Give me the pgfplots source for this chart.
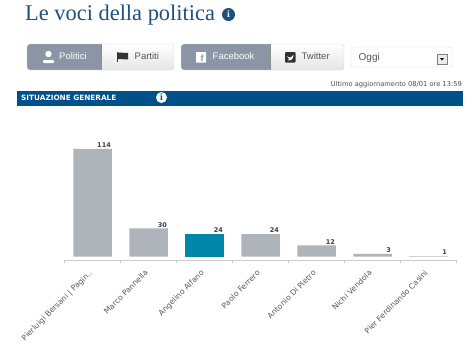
\documentclass[border=0pt]{standalone}
\usepackage{fontspec}
\setmainfont{Liberation Sans}
\newfontfamily\vfont{DejaVu Sans}
\newfontfamily\tfont{Liberation Serif}
\usepackage{pgfplots}
\pgfplotsset{compat=1.18}
\definecolor{navy}{HTML}{00508A}
\definecolor{titleblue}{HTML}{1F4F7F}
\definecolor{active}{HTML}{8A95A6}
\definecolor{barg}{HTML}{AEB4BA}
\definecolor{teal}{HTML}{0086A8}
\definecolor{btxt}{HTML}{555555}
\newcommand{\info}[4]{\fill[#3] (#1,#2) circle (#4);
  \node[text=white,font=\tfont\bfseries\fontsize{10}{10}\selectfont,inner sep=0pt] at (#1,#2) {i};}
\newcommand{\btn}[5]{% x1 y1 x2 xsplit ysplit : two-part button
  \begin{scope}
  \path[clip,rounded corners=3pt] (#1,#2) rectangle (#3,#2+26);
  \shade[top color=white,bottom color=black!10] (#1,#2) rectangle (#3,#2+26);
  \fill[active] (#1,#2) rectangle (#4,#2+26);
  \draw[black!45] (#4,#2) -- (#4,#2+26);
  \end{scope}
  \draw[black!15,rounded corners=3pt] (#1,#2) rectangle (#3,#2+26);}
\begin{document}
\begin{tikzpicture}
\begin{scope}[x=1pt,y=-1pt]
\path[use as bounding box,fill=white] (0,0) rectangle (476,357);
\node[anchor=west,inner sep=0pt,text=titleblue,font=\tfont\fontsize{22.4}{22.4}\selectfont] at (25,15) {Le voci della politica};
\info{228.5}{14.5}{titleblue}{6.5}
\btn{27}{44}{174}{101}{0}
\btn{181}{44}{344}{270}{0}
\draw[black!15,rounded corners=2pt,fill=white] (351,47) rectangle (452,67);
\node[anchor=west,inner sep=0pt,text=btxt,font=\fontsize{10}{10}\selectfont] at (358.5,57.5) {Oggi};
\draw[black!50,fill=black!8] (437,54) rectangle (447,64);
\fill[black] (440,58) -- (444,58) -- (442,60.5) -- cycle;
% icons
\fill[white] (48.5,54) circle (3.2);
\fill[white,rounded corners=1pt] (43,63) -- (43,60) -- (54,60) -- (54,63) -- cycle;
\node[anchor=west,inner sep=0pt,text=white,font=\fontsize{9.5}{9.5}\selectfont] at (59,56.5) {Politici};
\draw[black!80,line width=.8pt] (117,52) -- (117,62);
\fill[black!80] (118,52.5) -- (128,53) -- (128,59.5) -- (118,59) -- cycle;
\node[anchor=west,inner sep=0pt,text=btxt,font=\fontsize{9.5}{9.5}\selectfont] at (134.5,56.5) {Partiti};
\fill[white,rounded corners=.5pt] (196,52) rectangle (206,62.5);
\node[inner sep=0pt,text=active,font=\bfseries\fontsize{9}{9}\selectfont] at (202,58) {f};
\node[anchor=west,inner sep=0pt,text=white,font=\fontsize{9.5}{9.5}\selectfont] at (212.5,56.5) {Facebook};
\fill[black!80,rounded corners=1pt] (285,52) rectangle (295.5,62.5);
\fill[white] (287,56) .. controls (290,59) and (292,57) .. (293.5,54.5) .. controls (293.5,59) and (291,61) .. (287.5,60.5) -- (289,59) -- cycle;
\node[anchor=west,inner sep=0pt,text=btxt,font=\fontsize{9.5}{9.5}\selectfont] at (301.5,56.5) {Twitter};
\node[anchor=east,inner sep=0pt,text=black!70,font=\vfont\fontsize{6.7}{7}\selectfont] at (462,84.5) {Ultimo aggiornamento 08/01 ore 13:59};
\fill[navy] (17,91) rectangle (462.5,105.5);
\node[anchor=west,inner sep=0pt,text=white,font=\vfont\bfseries\fontsize{7.3}{7.3}\selectfont] at (21,98) {SITUAZIONE GENERALE};
\info{161.5}{97.5}{white}{5.5}
\node[inner sep=0pt,text=navy,font=\tfont\bfseries\fontsize{10}{10}\selectfont] at (161.5,97.5) {i};
\end{scope}
\begin{axis}[
  at={(64.5pt,-260pt)}, anchor=south west,
  scale only axis, width=392pt, height=116.7pt,
  xmin=-0.5, xmax=6.5, ymin=-3.5, ymax=120,
  axis x line=bottom, axis y line=none,
  x axis line style={-,draw=black!20,line width=.8pt},
  xtick={0,1,2,3,4,5,6},
  xticklabels={Pierluigi Bersani | Pagin..,Marco Pannella,Angelino Alfano,Paolo Ferrero,Antonio Di Pietro,Nichi Vendola,Pier Ferdinando Casini},
  minor xtick={-0.5,0.5,1.5,2.5,3.5,4.5,5.5,6.5},
  major tick length=0pt,
  minor tick length=3pt,
  tick align=outside,
  x tick style={draw=black!20,line width=.6pt},
  xticklabel style={rotate=45,anchor=north east,inner sep=0pt,yshift=-3.5pt,xshift=-9.5pt,text=black!65,font=\vfont\fontsize{7.7}{7.7}\selectfont},
  ybar, bar shift=0pt, bar width=38.5pt,
  nodes near coords,
  /pgf/number format/assume math mode=true,
  nodes near coords style={anchor=south east,xshift=19.5pt,inner sep=1pt,text=black!75,font=\vfont\bfseries\fontsize{6.5}{6.5}\selectfont},
  clip=false,
]
\addplot[fill=barg,draw=none] coordinates {(0,114) (1,30) (3,24) (4,12) (5,3)};
\addplot[fill=teal,draw=none] coordinates {(2,24)};
\addplot[fill=black!18,draw=none] coordinates {(6,1)};
\end{axis}
\end{tikzpicture}
\end{document}
